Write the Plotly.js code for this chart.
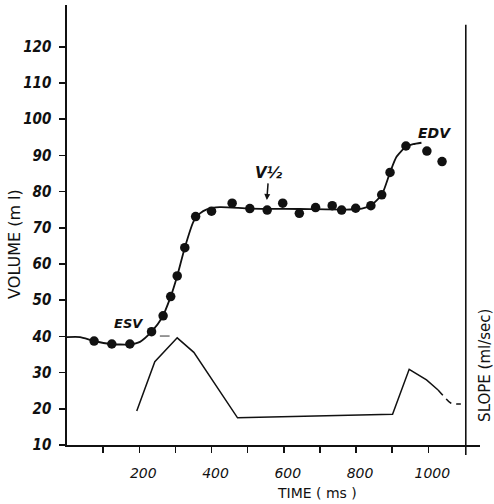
<!DOCTYPE html>
<html>
<head>
<meta charset="utf-8">
<script src="https://cdn.plot.ly/plotly-3.0.1.min.js"></script>
<style>html,body{margin:0;padding:0;background:#fff;}#chart{width:494px;height:504px;}</style>
</head>
<body>
<div id="chart"></div>
<script>
// Measured volume points (time in ms, volume in ml)
const pointTime = [75, 124, 174, 234, 266, 287, 305, 326, 356, 400, 457, 506, 554, 597, 643, 688, 734, 760, 799, 841, 871, 894, 938, 996, 1038];
const pointVolume = [38.7, 37.9, 37.9, 41.3, 45.7, 51.0, 56.7, 64.5, 73.1, 74.6, 76.8, 75.3, 74.9, 76.8, 74.0, 75.6, 76.1, 74.9, 75.4, 76.1, 79.1, 85.3, 92.6, 91.2, 88.3];

// Fitted volume curve
const fitTime = [0, 36, 73, 119, 174, 202, 234, 262, 287, 305, 326, 350, 368, 387, 423, 506, 645, 783, 816, 841, 871, 894, 912, 938, 958, 981];
const fitVolume = [39.8, 39.8, 38.8, 37.9, 37.8, 38.5, 41.3, 45.0, 51.0, 56.7, 64.5, 71.7, 74.0, 75.1, 75.7, 75.3, 75.2, 75.05, 75.3, 76.2, 79.1, 85.3, 89.6, 92.4, 93.1, 93.5];

// Slope curve (drawn on the right-hand axis, in the same picture units)
const slopeTime = [193, 243, 305, 351, 472, 901, 947, 995, 1027];
const slopeValue = [19.4, 33.0, 39.6, 35.6, 17.5, 18.5, 30.9, 28.0, 25.2];
const slopeDashTime = [1027, 1045, 1062, 1090];
const slopeDashValue = [25.2, 23.2, 21.6, 21.3];

// Short dashed reference at the ESV level
const esvDashTime = [257, 284];
const esvDashValue = [40.1, 40.1];

// Axis ticks
const xTickVals = [100, 200, 300, 400, 500, 600, 700, 800, 900, 1000];
const xTickText = ['', '200', '', '400', '', '600', '', '800', '', '1000'];
const yTickVals = [10, 20, 30, 40, 50, 60, 70, 80, 90, 100, 110, 120];
const yTickText = ['10', '20', '30', '40', '50', '60', '70', '80', '90', '100', '110', '120'];

const yRange = [10, 131.55];
const xRange = [0, 1143];

const traces = [
  {x: fitTime, y: fitVolume, mode: 'lines', line: {color: '#111', width: 1.8, shape: 'spline', smoothing: 0.6}, hoverinfo: 'skip'},
  {x: pointTime, y: pointVolume, mode: 'markers', marker: {color: '#111', size: 9.5}},
  {x: slopeTime, y: slopeValue, yaxis: 'y2', mode: 'lines', line: {color: '#111', width: 1.5}},
  {x: slopeDashTime, y: slopeDashValue, yaxis: 'y2', mode: 'lines', line: {color: '#111', width: 1.5, dash: '7px,5px', shape: 'spline'}},
  {x: esvDashTime, y: esvDashValue, mode: 'lines', line: {color: '#333', width: 1}}
];

const tickFontY = {family: '"Liberation Sans Narrow", "DejaVu Sans Condensed", sans-serif', size: 15, color: '#111', weight: 'bold', style: 'italic'};
const tickFontX = {family: '"DejaVu Sans", sans-serif', size: 14, color: '#111', style: 'italic'};

const layout = {
  width: 494, height: 504,
  margin: {l: 67, r: 14, t: 5, b: 59},
  paper_bgcolor: '#fff', plot_bgcolor: '#fff',
  showlegend: false,
  xaxis: {
    range: xRange, showgrid: false, zeroline: false,
    showline: true, linecolor: '#111', linewidth: 1.6,
    ticks: 'outside', ticklen: 6, tickwidth: 1.5, tickcolor: '#111',
    tickmode: 'array', tickvals: xTickVals, ticktext: xTickText,
    tickfont: tickFontX, ticklabelstandoff: 9, ticklabelshift: 4
  },
  yaxis: {
    range: yRange, showgrid: false, zeroline: false,
    showline: true, linecolor: '#111', linewidth: 1.6,
    ticks: 'outside', ticklen: 6, tickwidth: 1.5, tickcolor: '#111',
    tickmode: 'array', tickvals: yTickVals, ticktext: yTickText,
    tickfont: tickFontY, ticklabelstandoff: 5
  },
  yaxis2: {
    range: yRange, overlaying: 'y', side: 'right',
    showgrid: false, zeroline: false, showline: false,
    showticklabels: false, ticks: ''
  },
  shapes: [
    {type: 'line', xref: 'paper', yref: 'paper', x0: 0.9656, x1: 0.9656, y0: -0.023, y1: 0.955, line: {color: '#111', width: 1.6}}
  ],
  annotations: [
    {text: 'VOLUME (m l)', xref: 'paper', yref: 'paper', x: -0.126, y: 0.457, xanchor: 'center', yanchor: 'middle', showarrow: false, textangle: -90,
     font: {family: '"DejaVu Sans", sans-serif', size: 16, color: '#111'}},
    {text: 'TIME ( ms )', xref: 'paper', yref: 'paper', x: 0.605, y: -0.109, xanchor: 'center', yanchor: 'middle', showarrow: false,
     font: {family: '"DejaVu Sans", sans-serif', size: 14, color: '#111'}},
    {text: 'SLOPE (ml/sec)', xref: 'paper', yref: 'paper', x: 1.012, y: 0.182, xanchor: 'center', yanchor: 'middle', showarrow: false, textangle: -90,
     font: {family: '"DejaVu Sans", sans-serif', size: 15, color: '#111'}},
    {text: 'ESV', x: 170, y: 43.7, showarrow: false,
     font: {family: '"DejaVu Sans", sans-serif', size: 13, color: '#111', weight: 'bold', style: 'italic'}},
    {text: 'EDV', x: 1018, y: 96.3, showarrow: false,
     font: {family: '"DejaVu Sans", sans-serif', size: 14, color: '#111', weight: 'bold', style: 'italic'}},
    {text: 'V½', x: 553, y: 77.7, ax: 2, ay: -27, showarrow: true, arrowhead: 2, arrowsize: 0.8, arrowwidth: 1.5, arrowcolor: '#111', standoff: 0,
     font: {family: '"DejaVu Sans", sans-serif', size: 15, color: '#111', weight: 'bold', style: 'italic'}}
  ]
};

Plotly.newPlot('chart', traces, layout, {staticPlot: true, displayModeBar: false});
</script>
</body>
</html>
